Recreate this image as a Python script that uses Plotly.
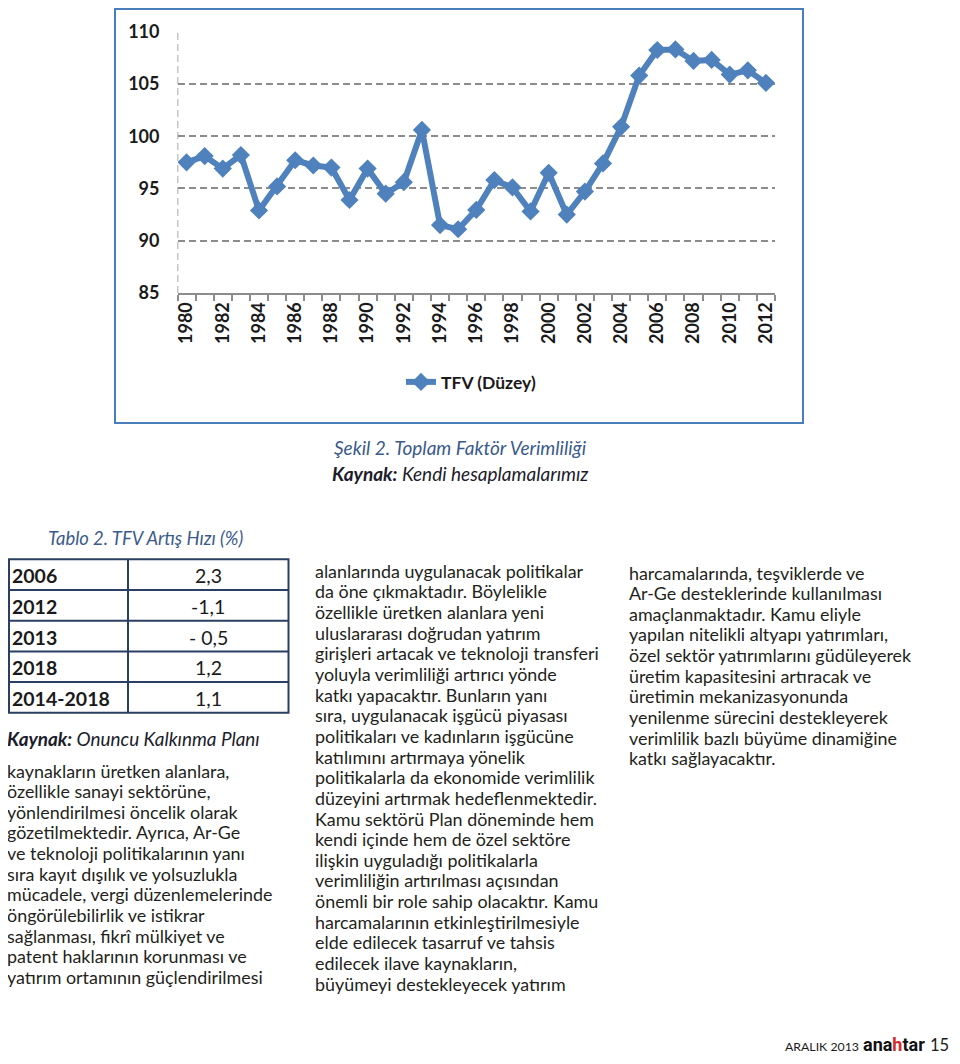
import plotly.graph_objects as go

# ---------------- data ----------------
years = list(range(1980, 2013))
tfv = [97.5, 98.1, 96.9, 98.2, 92.9, 95.2, 97.7, 97.2, 97.0, 93.9,
       96.9, 94.5, 95.6, 100.6, 91.5, 91.1, 92.95, 95.8, 95.1, 92.8,
       96.5, 92.5, 94.7, 97.4, 100.9, 105.8, 108.25, 108.3, 107.2, 107.3,
       105.9, 106.3, 105.1]
series_name = "TFV (Düzey)"
y_ticks = [85, 90, 95, 100, 105, 110]
x_label_years = years[::2]

table_years = ["2006", "2012", "2013", "2018", "2014-2018"]
table_rates = ["2,3", "-1,1", "- 0,5", "1,2", "1,1"]

fig_caption = "Şekil 2. Toplam Faktör Verimliliği"
fig_source = "<b>Kaynak:</b> Kendi hesaplamalarımız"
table_caption = "Tablo 2. TFV Artış Hızı (%)"
table_source = "<b>Kaynak:</b> Onuncu Kalkınma Planı"

left_col_lines = [
    "kaynakların üretken alanlara,",
    "özellikle sanayi sektörüne,",
    "yönlendirilmesi öncelik olarak",
    "gözetilmektedir. Ayrıca, Ar-Ge",
    "ve teknoloji politikalarının yanı",
    "sıra kayıt dışılık ve yolsuzlukla",
    "mücadele, vergi düzenlemelerinde",
    "öngörülebilirlik ve istikrar",
    "sağlanması, fikrî mülkiyet ve",
    "patent haklarının korunması ve",
    "yatırım ortamının güçlendirilmesi",
]
mid_col_lines = [
    "alanlarında uygulanacak politikalar",
    "da öne çıkmaktadır. Böylelikle",
    "özellikle üretken alanlara yeni",
    "uluslararası doğrudan yatırım",
    "girişleri artacak ve teknoloji transferi",
    "yoluyla verimliliği artırıcı yönde",
    "katkı yapacaktır. Bunların yanı",
    "sıra, uygulanacak işgücü piyasası",
    "politikaları ve kadınların işgücüne",
    "katılımını artırmaya yönelik",
    "politikalarla da ekonomide verimlilik",
    "düzeyini artırmak hedeflenmektedir.",
    "Kamu sektörü Plan döneminde hem",
    "kendi içinde hem de özel sektöre",
    "ilişkin uyguladığı politikalarla",
    "verimliliğin artırılması açısından",
    "önemli bir role sahip olacaktır. Kamu",
    "harcamalarının etkinleştirilmesiyle",
    "elde edilecek tasarruf ve tahsis",
    "edilecek ilave kaynakların,",
    "büyümeyi destekleyecek yatırım",
]
right_col_lines = [
    "harcamalarında, teşviklerde ve",
    "Ar-Ge desteklerinde kullanılması",
    "amaçlanmaktadır. Kamu eliyle",
    "yapılan nitelikli altyapı yatırımları,",
    "özel sektör yatırımlarını güdüleyerek",
    "üretim kapasitesini artıracak ve",
    "üretimin mekanizasyonunda",
    "yenilenme sürecini destekleyerek",
    "verimlilik bazlı büyüme dinamiğine",
    "katkı sağlayacaktır.",
]
footer_month = "ARALIK 2013"
footer_logo = "<b>ana<span style='color:#d42a2e'>h</span>tar</b>"
footer_page = "15"

# ---------------- layout helpers ----------------
# page body has an 8px margin, so the figure starts at page pixel (8, 8)
OFF = 8
W, H = 952, 1048
def px(x):
    return (x - OFF) / W
def py(y):
    return 1 - (y - OFF) / H

BLUE = "#4F81BD"
GRID = "#8c8c8c"
CHART_FONT = "Lato"
BODY_FONT = "Lato"
TEXT_COL = "#231f20"
CAP_COL = "#3a5a8c"

fig = go.Figure()
fig.add_trace(go.Scatter(
    x=years, y=tfv, mode="lines+markers", name=series_name,
    line=dict(color=BLUE, width=6),
    marker=dict(symbol="diamond", size=14, color=BLUE),
))

fig.update_layout(
    width=W, height=H,
    margin=dict(l=0, r=0, t=0, b=0, autoexpand=False),
    paper_bgcolor="white", plot_bgcolor="white",
    showlegend=True,
    legend=dict(orientation="h", x=px(401), y=py(382), xanchor="left", yanchor="middle",
                font=dict(family=CHART_FONT, size=17.5, color="#1a1a1a", weight="bold"),
                bgcolor="rgba(0,0,0,0)"),
    xaxis=dict(domain=[px(177.5), px(775)], range=[1979.5, 2012.5], automargin=False,
               tickmode="array", tickvals=x_label_years,
               ticktext=[str(v) for v in x_label_years],
               tickangle=-90, ticks="", ticklabelstandoff=0,
               tickfont=dict(family=CHART_FONT, size=18, color="#1a1a1a", weight="bold"),
               showgrid=False, zeroline=False,
               showline=True, linecolor=GRID, linewidth=2,
               minor=dict(tickmode="array", tickvals=[y - 0.5 for y in years] + [years[-1] + 0.5],
                          ticks="outside", ticklen=6, tickcolor=GRID, tickwidth=1.5, showgrid=False)),
    yaxis=dict(domain=[py(293), py(31.7)], range=[85, 110], automargin=False,
               tickmode="array", tickvals=y_ticks,
               ticks="", ticklabelstandoff=17,
               tickfont=dict(family=CHART_FONT, size=18, color="#1a1a1a", weight="bold"),
               showgrid=True, gridcolor=GRID, gridwidth=1.5, griddash="7px,4px",
               zeroline=False, showline=False),
)

shapes = []
# dashed vertical value-axis line
shapes.append(dict(type="line", xref="x", yref="y", x0=1979.5, x1=1979.5, y0=85, y1=110,
                   line=dict(color=GRID, width=1.5, dash="7px,4px"), layer="below"))
# chart frame
shapes.append(dict(type="rect", xref="paper", yref="paper",
                   x0=px(115), x1=px(803), y0=py(423), y1=py(9),
                   line=dict(color="#4A7EBB", width=2)))

# table frame
tbl_x0, tbl_x1, tbl_div = 9, 288.5, 128
tbl_top, row_h = 559.3, 30.7
n_rows = len(table_years)
TBL_LINE = "#2b3f63"
shapes.append(dict(type="rect", xref="paper", yref="paper",
                   x0=px(tbl_x0), x1=px(tbl_x1), y0=py(tbl_top + n_rows * row_h), y1=py(tbl_top),
                   line=dict(color=TBL_LINE, width=2)))
for i in range(1, n_rows):
    yy = tbl_top + i * row_h
    shapes.append(dict(type="line", xref="paper", yref="paper",
                       x0=px(tbl_x0), x1=px(tbl_x1), y0=py(yy), y1=py(yy),
                       line=dict(color=TBL_LINE, width=2)))
shapes.append(dict(type="line", xref="paper", yref="paper",
                   x0=px(tbl_div), x1=px(tbl_div), y0=py(tbl_top), y1=py(tbl_top + n_rows * row_h),
                   line=dict(color=TBL_LINE, width=2)))

annotations = []
def add_text(text, x, y, size, color=TEXT_COL, family=BODY_FONT, xanchor="left",
             style="normal", weight="normal", yanchor="middle", borderpad=1):
    annotations.append(dict(text=text, x=px(x), y=py(y), xref="paper", yref="paper",
                            xanchor=xanchor, yanchor=yanchor, showarrow=False, borderpad=borderpad,
                            font=dict(family=family, size=size, color=color, style=style, weight=weight)))

add_text(fig_caption, 460.5, 447.5, 19, color=CAP_COL, xanchor="center", style="italic")
add_text(fig_source, 460, 474, 19, color="#1c1c2a", xanchor="center", style="italic")
add_text(table_caption, 145.5, 538, 18.4, color=CAP_COL, xanchor="center", style="italic")

for i, (yr, rt) in enumerate(zip(table_years, table_rates)):
    cy = tbl_top + (i + 0.5) * row_h + 1
    add_text(yr, 10, cy, 19.5, color="#1a1a1a", weight="bold")
    add_text(rt, (tbl_div + tbl_x1) / 2, cy, 19.5, color="#1a1a1a", xanchor="center")

add_text(table_source, 5, 738, 18.9, color="#1c1c2a", style="italic")

LINE_H = 20.65
BODY_SIZE = 17.9
for i, t in enumerate(left_col_lines):
    add_text(t, 5, 770.5 + i * LINE_H, BODY_SIZE)
for i, t in enumerate(mid_col_lines):
    add_text(t, 312.5, 570.7 + i * LINE_H, BODY_SIZE)
for i, t in enumerate(right_col_lines):
    add_text(t, 626.5, 572.5 + i * LINE_H, BODY_SIZE)

# footer: anchored to the bottom edge of the figure so nothing is clipped
FOOT_Y = OFF + H - 0.5
add_text(footer_month, 784, FOOT_Y - 1, 12.3, color="#1a1a1a", yanchor="bottom", borderpad=0)
add_text(footer_logo, 862, FOOT_Y, 18, color="#111111", family="Roboto", weight=900,
         yanchor="bottom", borderpad=0)
add_text(footer_page, 929, FOOT_Y, 16.5, color="#1a1a1a", yanchor="bottom", borderpad=0)

fig.update_layout(shapes=shapes, annotations=annotations)
fig.write_html("out.html")
